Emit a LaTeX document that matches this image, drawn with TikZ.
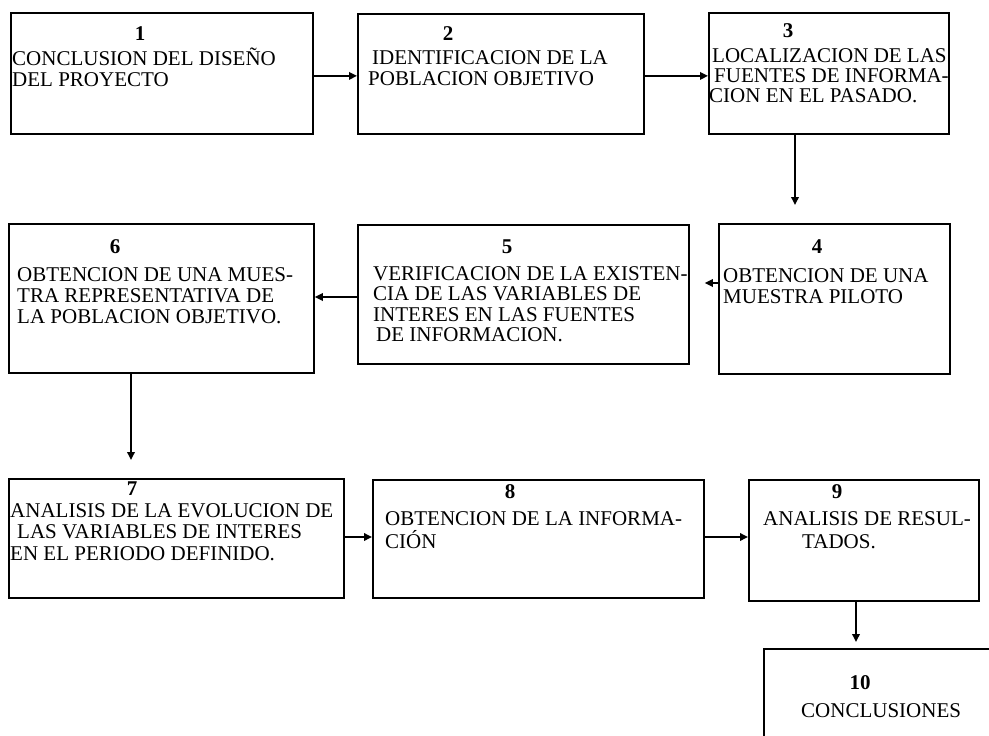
\documentclass[tikz,border=0pt]{standalone}
\usepackage{fontspec}
\setmainfont{Liberation Serif}
\usetikzlibrary{arrows.meta}
\tikzset{
  box/.style={draw, line width=1.8pt, inner sep=0pt, anchor=north west},
  txt/.style={anchor=base west, inner sep=0pt, font=\fontsize{21}{21}\selectfont},
  num/.style={anchor=base, inner sep=0pt, font=\fontsize{21}{21}\selectfont\bfseries},
  arr/.style={line width=1.8pt, -{Triangle[length=8pt,width=7.5pt]}}
}
\begin{document}
\begin{tikzpicture}[x=1pt,y=-1pt]
\clip (0,0) rectangle (989,736);
\fill[white] (0,0) rectangle (989,736);
% boxes
\node[box, minimum width=302pt, minimum height=121pt] (b1) at (10,12) {};
\node[box, minimum width=286pt, minimum height=120pt] (b2) at (357,13) {};
\node[box, minimum width=240pt, minimum height=121pt] (b3) at (708,12) {};
\node[box, minimum width=231pt, minimum height=150pt] (b4) at (718,223) {};
\node[box, minimum width=331pt, minimum height=139pt] (b5) at (357,224) {};
\node[box, minimum width=305pt, minimum height=149pt] (b6) at (8,223) {};
\node[box, minimum width=335pt, minimum height=119pt] (b7) at (8,478) {};
\node[box, minimum width=331pt, minimum height=118pt] (b8) at (372,479) {};
\node[box, minimum width=230pt, minimum height=121pt] (b9) at (748,479) {};
\node[box, minimum width=247pt, minimum height=112pt] (b10) at (763,648) {};
% box 1
\node[num] (n1) at (140,40) {1};
\node[txt] (t1a) at (12,65) {CONCLUSION DEL DISEÑO};
\node[txt] (t1b) at (12,86) {DEL PROYECTO};
% box 2
\node[num] (n2) at (448,41) {2};
\node[txt] (t2a) at (372,64) {IDENTIFICACION DE LA};
\node[txt] (t2b) at (368,85) {POBLACION OBJETIVO};
% box 3
\node[num] (n3) at (788,37) {3};
\node[txt] (t3a) at (712,62) {LOCALIZACION DE LAS};
\node[txt] (t3b) at (714,82) {FUENTES DE INFORMA-};
\node[txt] (t3c) at (709,102) {CION EN EL PASADO.};
% box 4
\node[num] (n4) at (817,253) {4};
\node[txt] (t4a) at (723,282) {OBTENCION DE UNA};
\node[txt] (t4b) at (723,303) {MUESTRA PILOTO};
% box 5
\node[num] (n5) at (507,253) {5};
\node[txt] (t5a) at (373,280) {VERIFICACION DE LA EXISTEN-};
\node[txt] (t5b) at (373,300) {CIA DE LAS VARIABLES DE};
\node[txt] (t5c) at (373,321) {INTERES EN LAS FUENTES};
\node[txt] (t5d) at (376,341) {DE INFORMACION.};
% box 6
\node[num] (n6) at (115,253) {6};
\node[txt] (t6a) at (17,281) {OBTENCION DE UNA MUES-};
\node[txt] (t6b) at (17,302) {TRA REPRESENTATIVA DE};
\node[txt] (t6c) at (17,323) {LA POBLACION OBJETIVO.};
% box 7
\node[num] (n7) at (132,495) {7};
\node[txt] (t7a) at (10,517) {ANALISIS DE LA EVOLUCION DE};
\node[txt] (t7b) at (17,538) {LAS VARIABLES DE INTERES};
\node[txt] (t7c) at (10,560) {EN EL PERIODO DEFINIDO.};
% box 8
\node[num] (n8) at (510,498) {8};
\node[txt] (t8a) at (385,525) {OBTENCION DE LA INFORMA-};
\node[txt] (t8b) at (385,548) {CIÓN};
% box 9
\node[num] (n9) at (837,498) {9};
\node[txt] (t9a) at (763,525) {ANALISIS DE RESUL-};
\node[txt] (t9b) at (802,548) {TADOS.};
% box 10
\node[num] (n10) at (860,689) {10};
\node[txt] (t10a) at (801,717) {CONCLUSIONES};
% connectors
\draw[arr] ([yshift=-2.5pt]b1.east) -- ([yshift=-2.5pt]b1.east -| b2.west);
\draw[arr] ([yshift=-2pt]b2.east) -- ([yshift=-2pt]b2.east -| b3.west);
\draw[arr, shorten >=18pt] (b3.south -| 795,0) -- (b4.north -| 795,0);
\draw[arr, shorten >=15pt] (b4.west |- 0,283) -- (b5.east |- 0,283);
\draw[arr] (b5.west |- 0,297) -- (b6.east |- 0,297);
\draw[arr, shorten >=18pt] (b6.south -| 131,0) -- (b7.north -| 131,0);
\draw[arr] (b7.east |- 0,537) -- (b8.west |- 0,537);
\draw[arr] (b8.east |- 0,537) -- (b9.west |- 0,537);
\draw[arr, shorten >=6pt] (b9.south -| 856,0) -- (b10.north -| 856,0);
\end{tikzpicture}
\end{document}
